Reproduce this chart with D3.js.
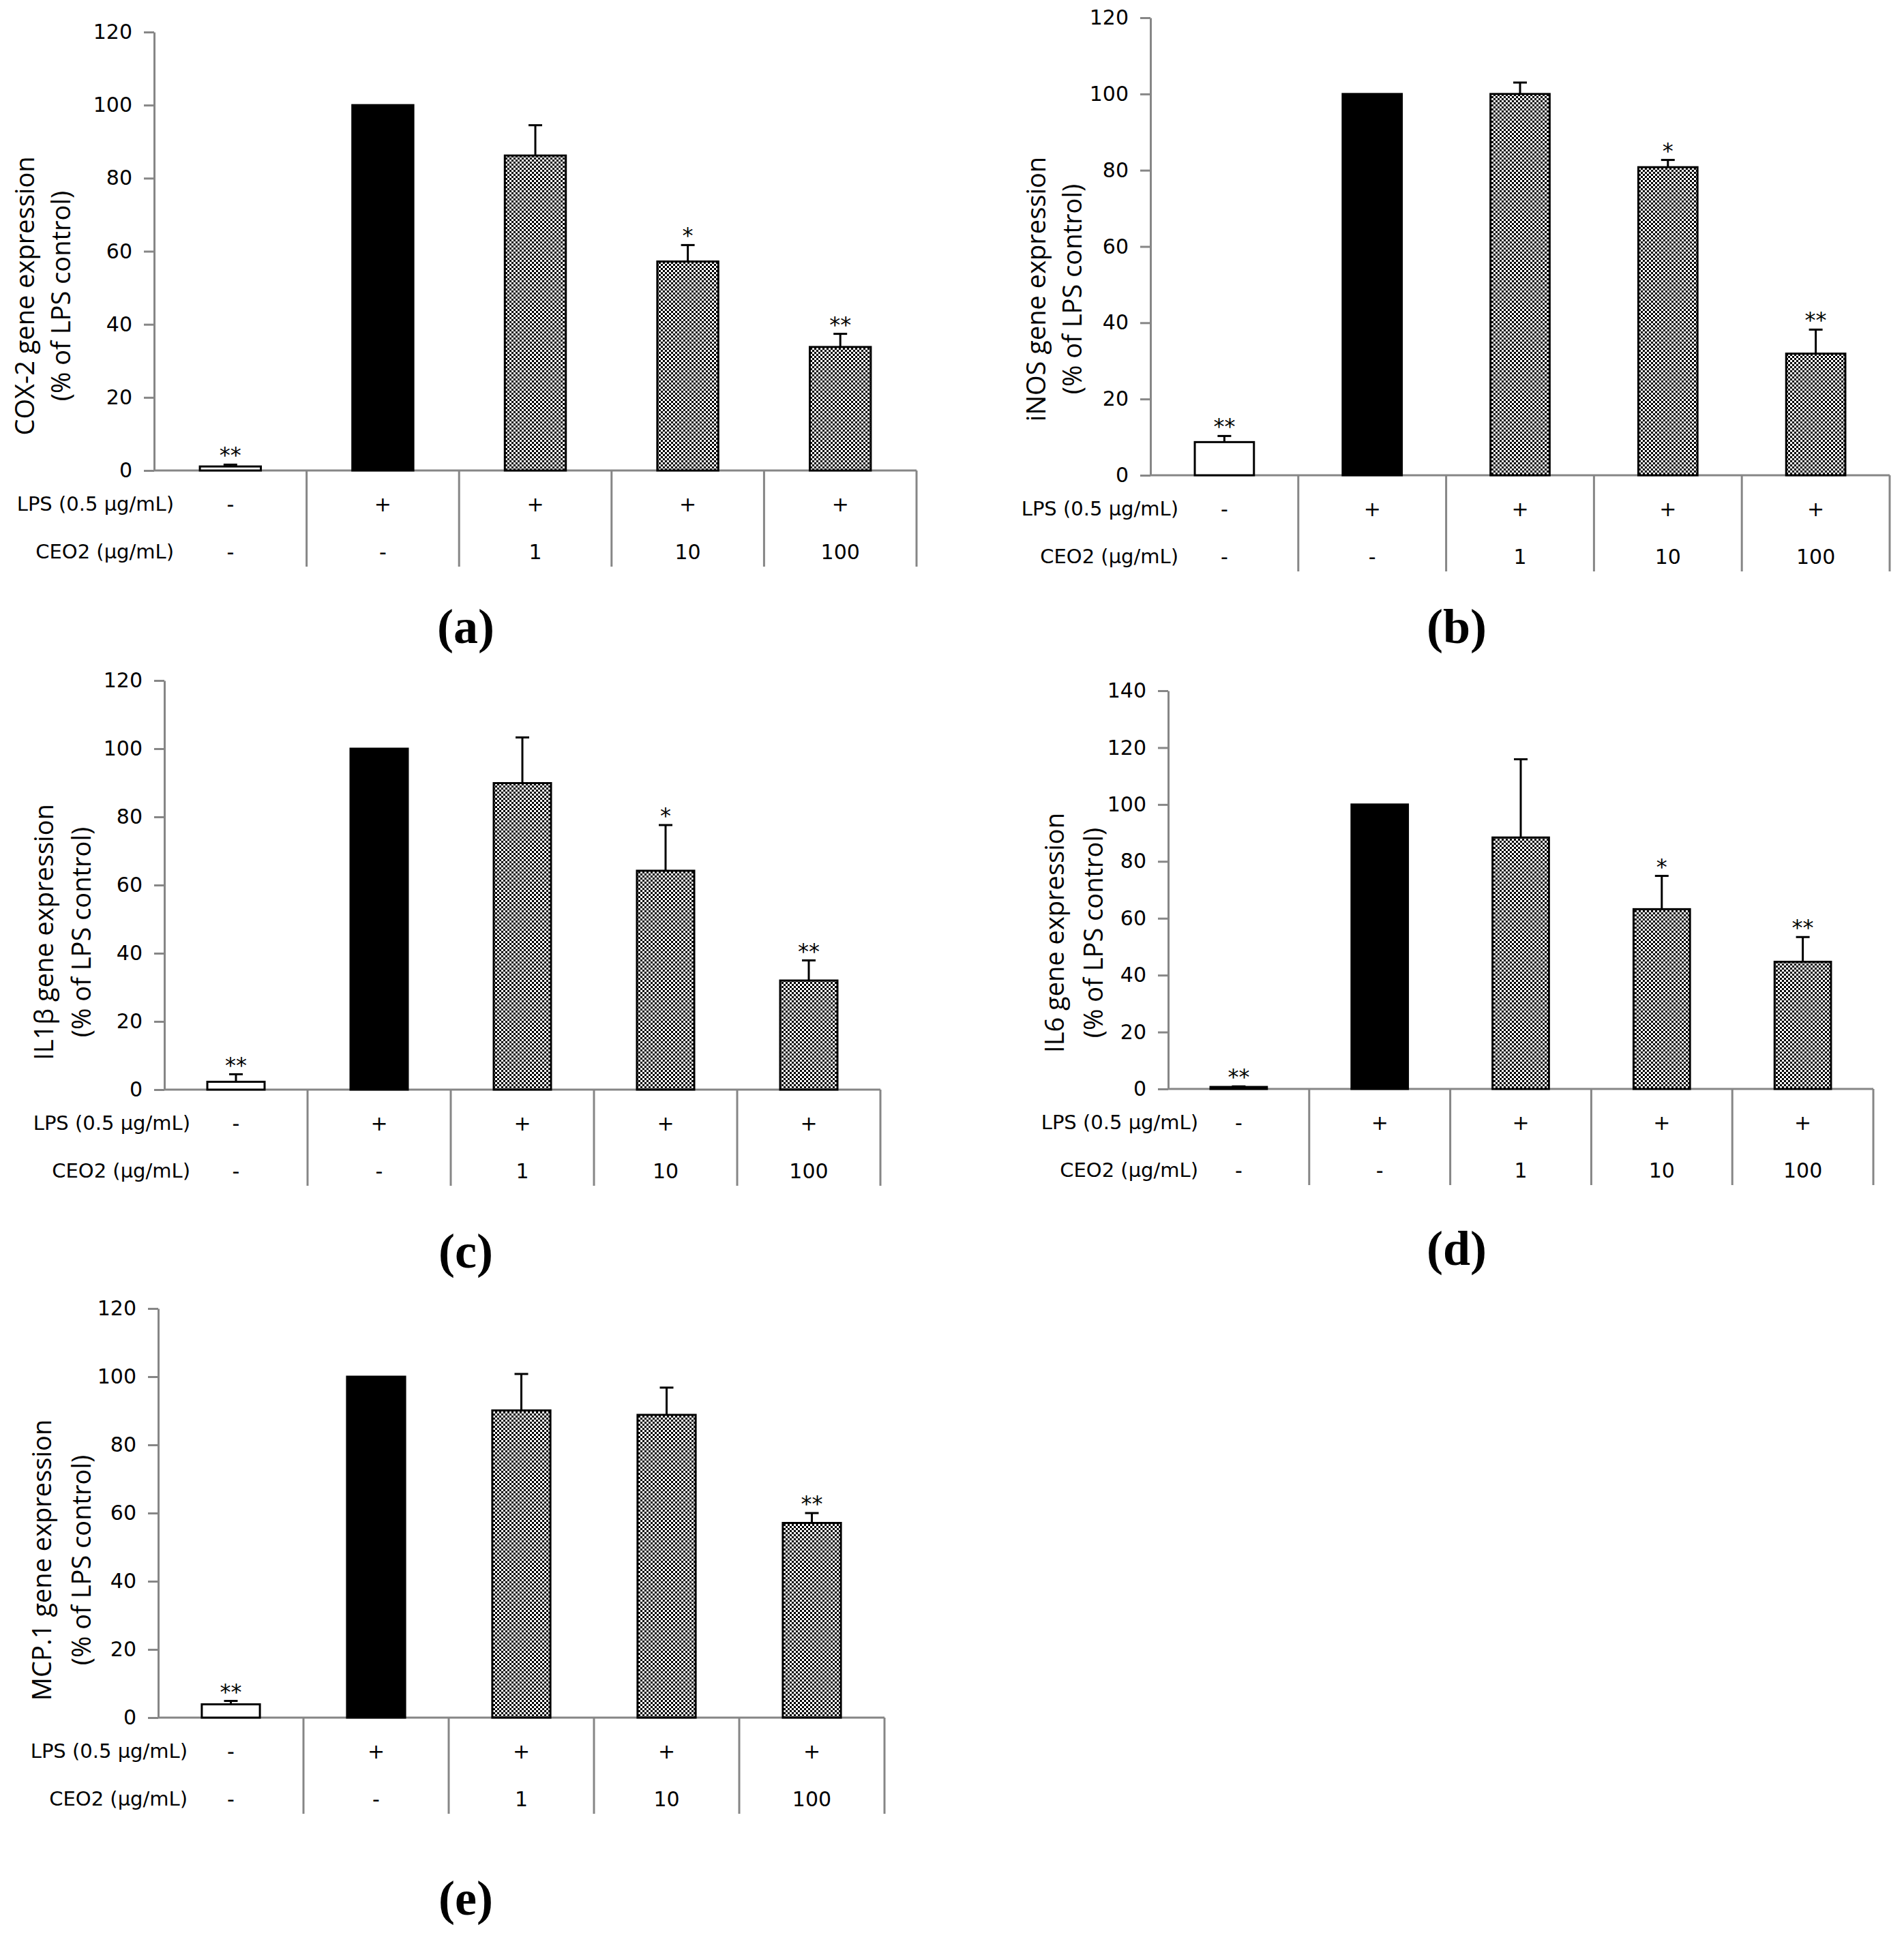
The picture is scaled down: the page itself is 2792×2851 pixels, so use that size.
<!doctype html>
<html>
<head>
<script src="https://cdn.jsdelivr.net/npm/d3@7/dist/d3.min.js"></script>
<style>
  body { margin: 0; background: #fff; }
</style>
</head>
<body>
<svg id="fig" width="2792" height="2851"></svg>
<script>
// treatment groups and the two rows of the table under each chart
var groups = ["ctrl", "lps", "ceo1", "ceo10", "ceo100"];
var lpsRow = ["-", "+", "+", "+", "+"];
var ceoRow = ["-", "-", "1", "10", "100"];
var ticks120 = [0, 20, 40, 60, 80, 100, 120];
var ticks140 = [0, 20, 40, 60, 80, 100, 120, 140];

// values (% of LPS control), mean and upper SD
var cox2Mean = [1.1, 100, 86.2, 57.2, 33.8];
var cox2Err  = [0.5, 0, 8.3, 4.5, 3.6];
var cox2Sig  = ["**", "", "", "*", "**"];

var inosMean = [8.7, 100, 100, 80.8, 31.9];
var inosErr  = [1.6, 0, 3, 1.9, 6.3];
var inosSig  = ["**", "", "", "*", "**"];

var il1bMean = [2.3, 100, 89.9, 64.2, 32];
var il1bErr  = [2.2, 0, 13.4, 13.4, 5.9];
var il1bSig  = ["**", "", "", "*", "**"];

var il6Mean = [0.7, 100, 88.4, 63.2, 44.7];
var il6Err  = [0.2, 0, 27.5, 11.7, 8.7];
var il6Sig  = ["**", "", "", "*", "**"];

var mcp1Mean = [3.9, 100, 90.1, 88.8, 57.1];
var mcp1Err  = [1, 0, 10.7, 8, 2.9];
var mcp1Sig  = ["**", "", "", "", "**"];

var svg = d3.select("#fig");
svg.append("rect").attr("width", 2792).attr("height", 2851).attr("fill", "#fff");

var pat = svg.append("defs").append("pattern")
    .attr("id", "dither")
    .attr("width", 6).attr("height", 6)
    .attr("patternUnits", "userSpaceOnUse");
pat.append("rect").attr("width", 6).attr("height", 6).attr("fill", "#fff");
pat.append("rect").attr("width", 3).attr("height", 3).attr("fill", "#000");
pat.append("rect").attr("x", 3).attr("y", 3).attr("width", 3).attr("height", 3).attr("fill", "#000");

var panels = [
  {name: "COX-2 gene expression", mean: cox2Mean, err: cox2Err, sig: cox2Sig, ticks: ticks120, yMax: 120,
   axisX: 226, top: 47, y0: 690, xEnd: 1344, titleY: 434, t1: 50, t2: 103, labelX: 255, letter: "(a)", lx: 683, ly: 943},
  {name: "iNOS gene expression", mean: inosMean, err: inosErr, sig: inosSig, ticks: ticks120, yMax: 120,
   axisX: 1687, top: 26, y0: 697, xEnd: 2771, titleY: 424, t1: 1533, t2: 1586, labelX: 1728, letter: "(b)", lx: 2136, ly: 943},
  {name: "IL1\u03b2 gene expression", mean: il1bMean, err: il1bErr, sig: il1bSig, ticks: ticks120, yMax: 120,
   axisX: 241, top: 998, y0: 1598, xEnd: 1291, titleY: 1367, t1: 78, t2: 133, labelX: 279, letter: "(c)", lx: 683, ly: 1859},
  {name: "IL6 gene expression", mean: il6Mean, err: il6Err, sig: il6Sig, ticks: ticks140, yMax: 140,
   axisX: 1713, top: 1013, y0: 1597, xEnd: 2747, titleY: 1368, t1: 1560, t2: 1617, labelX: 1757, letter: "(d)", lx: 2136, ly: 1855},
  {name: "MCP.1 gene expression", mean: mcp1Mean, err: mcp1Err, sig: mcp1Sig, ticks: ticks120, yMax: 120,
   axisX: 232, top: 1919, y0: 2519, xEnd: 1297, titleY: 2288, t1: 75, t2: 133, labelX: 275, letter: "(e)", lx: 683, ly: 2808}
];

var axisGrey = "#868686";
var sans = "'DejaVu Sans', sans-serif";

function label(g, x, y, txt, anchor, size) {
  return g.append("text").attr("x", x).attr("y", y).attr("dy", "0.35em")
      .attr("text-anchor", anchor)
      .style("font-family", sans).style("font-size", size + "px").style("fill", "#000")
      .text(txt);
}

panels.forEach(function(p) {
  var g = svg.append("g");
  var x = d3.scaleBand().domain(groups).range([p.axisX, p.xEnd]);
  var y = d3.scaleLinear().domain([0, p.yMax]).range([p.y0, p.top]);
  var bw = x.bandwidth();

  // y axis
  var ax = g.append("g")
      .attr("transform", "translate(" + p.axisX + ",0)")
      .call(d3.axisLeft(y).tickValues(p.ticks).tickSize(15).tickSizeOuter(0).tickPadding(17));
  ax.select(".domain").attr("stroke", axisGrey).attr("stroke-width", 3);
  ax.selectAll(".tick line").attr("stroke", axisGrey).attr("stroke-width", 3);
  ax.selectAll(".tick text")
      .style("font-family", sans).style("font-size", "30px").style("fill", "#000");

  // x axis line and the table dividers
  g.append("line")
      .attr("x1", p.axisX).attr("x2", p.xEnd)
      .attr("y1", p.y0).attr("y2", p.y0)
      .attr("stroke", axisGrey).attr("stroke-width", 3);
  g.selectAll(".div").data(groups).enter().append("line")
      .attr("x1", d => x(d) + bw).attr("x2", d => x(d) + bw)
      .attr("y1", p.y0).attr("y2", p.y0 + 141)
      .attr("stroke", axisGrey).attr("stroke-width", 3);

  // bars
  g.selectAll(".bar").data(p.mean).enter().append("rect")
      .attr("x", (d, i) => x(groups[i]) + bw * 0.3)
      .attr("width", bw * 0.4)
      .attr("y", d => y(d))
      .attr("height", d => p.y0 - y(d))
      .attr("fill", (d, i) => i == 0 ? "#fff" : i == 1 ? "#000" : "url(#dither)")
      .attr("stroke", "#000")
      .attr("stroke-width", 3);

  // error bars (upper only)
  p.mean.forEach(function(m, i) {
    var e = p.err[i];
    var cx = x(groups[i]) + bw / 2;
    if (e > 0) {
      g.append("line").attr("x1", cx).attr("x2", cx)
          .attr("y1", y(m)).attr("y2", y(m + e))
          .attr("stroke", "#000").attr("stroke-width", 3);
      g.append("line").attr("x1", cx - 10).attr("x2", cx + 10)
          .attr("y1", y(m + e)).attr("y2", y(m + e))
          .attr("stroke", "#000").attr("stroke-width", 3);
    }
    if (p.sig[i]) {
      g.append("text").attr("x", cx).attr("y", y(m + e) - 3)
          .attr("text-anchor", "middle")
          .style("font-family", sans).style("font-size", "32px").style("fill", "#000")
          .text(p.sig[i]);
    }
  });

  // table rows
  label(g, p.labelX, p.y0 + 49, "LPS (0.5 \u00b5g/mL)", "end", 29);
  label(g, p.labelX, p.y0 + 119, "CEO2 (\u00b5g/mL)", "end", 29);
  lpsRow.forEach(function(d, i) { label(g, x(groups[i]) + bw / 2, p.y0 + 49, d, "middle", 30); });
  ceoRow.forEach(function(d, i) { label(g, x(groups[i]) + bw / 2, p.y0 + 119, d, "middle", 30); });

  // y title, two lines
  [[p.name, p.t1], ["(% of LPS control)", p.t2]].forEach(function(t) {
    g.append("text")
        .attr("transform", "translate(" + t[1] + "," + p.titleY + ") rotate(-90)")
        .attr("text-anchor", "middle")
        .style("font-family", "'Open Sans', sans-serif").style("font-size", "38px").style("fill", "#000")
        .text(t[0]);
  });

  // panel letter
  g.append("text").attr("x", p.lx).attr("y", p.ly)
      .attr("text-anchor", "middle")
      .style("font-family", "'Liberation Serif', serif").style("font-weight", "bold")
      .style("font-size", "72px").style("fill", "#000")
      .text(p.letter);
});
</script>
</body>
</html>
